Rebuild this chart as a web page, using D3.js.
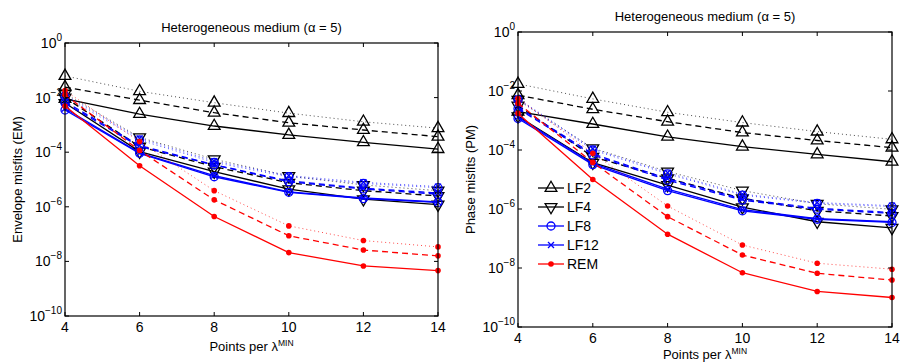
<!DOCTYPE html>
<html>
<head>
<meta charset="utf-8">
<script src="https://cdn.jsdelivr.net/npm/d3@7"></script>
<style>
  body { margin: 0; background: #fff; }
  svg { font-family: "Liberation Sans", Arial, sans-serif; }
</style>
</head>
<body>
<svg width="900" height="362"></svg>
<script>
// points per lambda_min
const xs = [4, 6, 8, 10, 12, 14];
const xTicks = [4, 6, 8, 10, 12, 14];
const yTickExp = [0, -2, -4, -6, -8, -10];
const methods = ["LF2", "LF4", "LF8", "LF12", "REM"];

// envelope misfits, rows = solid, dashed, dotted
const emLF2 = [
  [8.9e-3, 2.5e-3, 9.1e-4, 4.3e-4, 2.3e-4, 1.3e-4],
  [2.4e-2, 8.1e-3, 2.8e-3, 1.2e-3, 6.5e-4, 3.7e-4],
  [6.2e-2, 1.7e-2, 6.5e-3, 2.7e-3, 1.3e-3, 7.6e-4]
];
const emLF4 = [
  [6.3e-3, 1.05e-4, 1.95e-5, 4.4e-6, 1.9e-6, 1.2e-6],
  [1.0e-2, 1.6e-4, 2.95e-5, 7.6e-6, 3.9e-6, 2.5e-6],
  [1.4e-2, 3.5e-4, 5.5e-5, 1.35e-5, 6.3e-6, 3.9e-6]
];
const emLF8 = [
  [3.5e-3, 9.1e-5, 1.26e-5, 3.4e-6, 2.0e-6, 1.45e-6],
  [6.3e-3, 1.6e-4, 3.4e-5, 8.3e-6, 4.5e-6, 2.9e-6],
  [1.1e-2, 2.8e-4, 4.2e-5, 1.26e-5, 7.2e-6, 5.0e-6]
];
const emLF12 = [
  [4.0e-3, 9.5e-5, 1.4e-5, 3.5e-6, 2.1e-6, 1.5e-6],
  [7.1e-3, 1.75e-4, 3.5e-5, 8.9e-6, 4.8e-6, 3.2e-6],
  [1.25e-2, 3.2e-4, 4.7e-5, 1.4e-5, 7.9e-6, 5.5e-6]
];
const emREM = [
  [4.9e-3, 3.2e-5, 4.4e-7, 2.1e-8, 6.8e-9, 4.6e-9],
  [1.26e-2, 1.15e-4, 1.8e-6, 8.7e-8, 2.6e-8, 1.6e-8],
  [1.8e-2, 2.45e-4, 3.9e-6, 2.0e-7, 5.8e-8, 3.4e-8]
];

// phase misfits
const pmLF2 = [
  [2.0e-3, 7.6e-4, 2.8e-4, 1.3e-4, 7.1e-5, 4.0e-5],
  [7.2e-3, 2.4e-3, 9.1e-4, 3.9e-4, 2.1e-4, 1.2e-4],
  [1.74e-2, 5.4e-3, 1.9e-3, 8.5e-4, 4.2e-4, 2.3e-4]
];
const pmLF4 = [
  [1.4e-3, 3.7e-5, 6.5e-6, 1.15e-6, 3.7e-7, 2.3e-7],
  [3.2e-3, 5.9e-5, 1.1e-5, 2.3e-6, 8.7e-7, 5.8e-7],
  [5.0e-3, 1.15e-4, 1.86e-5, 4.2e-6, 1.5e-6, 9.8e-7]
];
const pmLF8 = [
  [1.17e-3, 3.2e-5, 4.2e-6, 8.7e-7, 4.5e-7, 3.5e-7],
  [2.5e-3, 6.8e-5, 9.5e-6, 2.0e-6, 9.8e-7, 7.1e-7],
  [5.0e-3, 1.0e-4, 1.55e-5, 2.95e-6, 1.55e-6, 1.2e-6]
];
const pmLF12 = [
  [1.3e-3, 3.5e-5, 4.7e-6, 9.5e-7, 4.7e-7, 3.7e-7],
  [2.8e-3, 7.4e-5, 1.05e-5, 2.2e-6, 1.05e-6, 7.6e-7],
  [5.6e-3, 1.1e-4, 1.7e-5, 3.2e-6, 1.66e-6, 1.3e-6]
];
const pmREM = [
  [1.74e-3, 1.0e-5, 1.4e-7, 6.9e-9, 1.6e-9, 1.0e-9],
  [3.8e-3, 3.8e-5, 5.5e-7, 2.75e-8, 6.6e-9, 3.9e-9],
  [5.6e-3, 7.8e-5, 1.26e-6, 6.0e-8, 1.45e-8, 9.1e-9]
];

const colors = { LF2: "#000", LF4: "#000", LF8: "#0000ff", LF12: "#0000ff", REM: "#ff0000" };
const dashes = [null, "6,4", "1,3"];

const svg = d3.select("svg");

function marker(g, name, x, y) {
  const c = colors[name];
  if (name === "LF2" || name === "LF4") {
    g.append("path")
      .attr("d", d3.symbol(d3.symbolTriangle, 60)())
      .attr("transform", `translate(${x},${y})` + (name === "LF4" ? " rotate(180)" : ""))
      .attr("fill", "none").attr("stroke", c).attr("stroke-width", 1.3);
  } else if (name === "LF8") {
    g.append("circle").attr("cx", x).attr("cy", y).attr("r", 4)
      .attr("fill", "none").attr("stroke", c).attr("stroke-width", 1.3);
  } else if (name === "LF12") {
    g.append("path").attr("d", "M-3,-3L3,3M-3,3L3,-3")
      .attr("transform", `translate(${x},${y})`)
      .attr("stroke", c).attr("stroke-width", 1.3);
  } else {
    g.append("circle").attr("cx", x).attr("cy", y).attr("r", 2.8).attr("fill", c);
  }
}

function panel(p) {
  const x = d3.scaleLinear().domain([4, 14]).range([p.left, p.right]);
  const y = d3.scaleLog().domain([1e-10, 1]).range([p.bottom, p.top]);
  const g = svg.append("g");

  const line = d3.line().x((d, i) => x(xs[i])).y(d => y(d));
  methods.forEach(m => {
    p.data[m].forEach((vals, k) => {
      g.append("path").datum(vals)
        .attr("d", line)
        .attr("fill", "none")
        .attr("stroke", colors[m])
        .attr("stroke-opacity", k === 2 ? 0.7 : 1)
        .attr("stroke-width", k === 2 ? 1 : 1.3)
        .attr("stroke-dasharray", dashes[k]);
      vals.forEach((v, i) => marker(g, m, x(xs[i]), y(v)));
    });
  });

  // box
  g.append("rect")
    .attr("x", p.left).attr("y", p.top)
    .attr("width", p.right - p.left).attr("height", p.bottom - p.top)
    .attr("fill", "none").attr("stroke", "#000").attr("stroke-width", 1.2);

  // x ticks
  xTicks.forEach(t => {
    g.append("line").attr("x1", x(t)).attr("x2", x(t)).attr("y1", p.bottom).attr("y2", p.bottom - 4).attr("stroke", "#000");
    g.append("line").attr("x1", x(t)).attr("x2", x(t)).attr("y1", p.top).attr("y2", p.top + 4).attr("stroke", "#000");
    g.append("text").attr("x", x(t)).attr("y", p.bottom + 16)
      .attr("text-anchor", "middle").attr("font-size", 14).text(t);
  });

  // y ticks
  yTickExp.forEach(e => {
    const yy = y(Math.pow(10, e));
    g.append("line").attr("x1", p.left).attr("x2", p.left + 4).attr("y1", yy).attr("y2", yy).attr("stroke", "#000");
    g.append("line").attr("x1", p.right).attr("x2", p.right - 4).attr("y1", yy).attr("y2", yy).attr("stroke", "#000");
    const t = g.append("text").attr("x", p.left - 3).attr("y", yy + 5)
      .attr("text-anchor", "end").attr("font-size", 14);
    t.append("tspan").text("10");
    t.append("tspan").attr("dy", -7).attr("font-size", 10).text(e === 0 ? "0" : "\u2212" + (-e));
  });

  // labels
  g.append("text").attr("x", (p.left + p.right) / 2).attr("y", p.top - 11)
    .attr("text-anchor", "middle").attr("font-size", 13)
    .text("Heterogeneous medium (\u03b1 = 5)");
  const xl = g.append("text").attr("x", (p.left + p.right) / 2).attr("y", p.xlabY)
    .attr("text-anchor", "middle").attr("font-size", 13);
  xl.append("tspan").text("Points per \u03bb");
  xl.append("tspan").attr("dy", -5).attr("font-size", 8.5).text("MIN");
  g.append("text")
    .attr("transform", `translate(${p.ylabX},${(p.top + p.bottom) / 2}) rotate(-90)`)
    .attr("text-anchor", "middle").attr("font-size", 13).text(p.ylabel);

  if (p.legend) {
    methods.forEach((m, i) => {
      const ly = p.legend.y + i * 19;
      g.append("line").attr("x1", p.legend.x).attr("x2", p.legend.x + 26)
        .attr("y1", ly).attr("y2", ly).attr("stroke", colors[m]).attr("stroke-width", 1.3);
      marker(g, m, p.legend.x + 13, ly);
      g.append("text").attr("x", p.legend.x + 29).attr("y", ly + 5)
        .attr("font-size", 14).text(m);
    });
  }
}

panel({
  left: 65, right: 438, top: 43, bottom: 316, ylabX: 22, xlabY: 351,
  ylabel: "Envelope misfits (EM)",
  data: { LF2: emLF2, LF4: emLF4, LF8: emLF8, LF12: emLF12, REM: emREM }
});
panel({
  left: 518, right: 892, top: 32, bottom: 327, ylabX: 475, xlabY: 359,
  ylabel: "Phase misfits (PM)",
  data: { LF2: pmLF2, LF4: pmLF4, LF8: pmLF8, LF12: pmLF12, REM: pmREM },
  legend: { x: 538, y: 188 }
});
</script>
</body>
</html>
